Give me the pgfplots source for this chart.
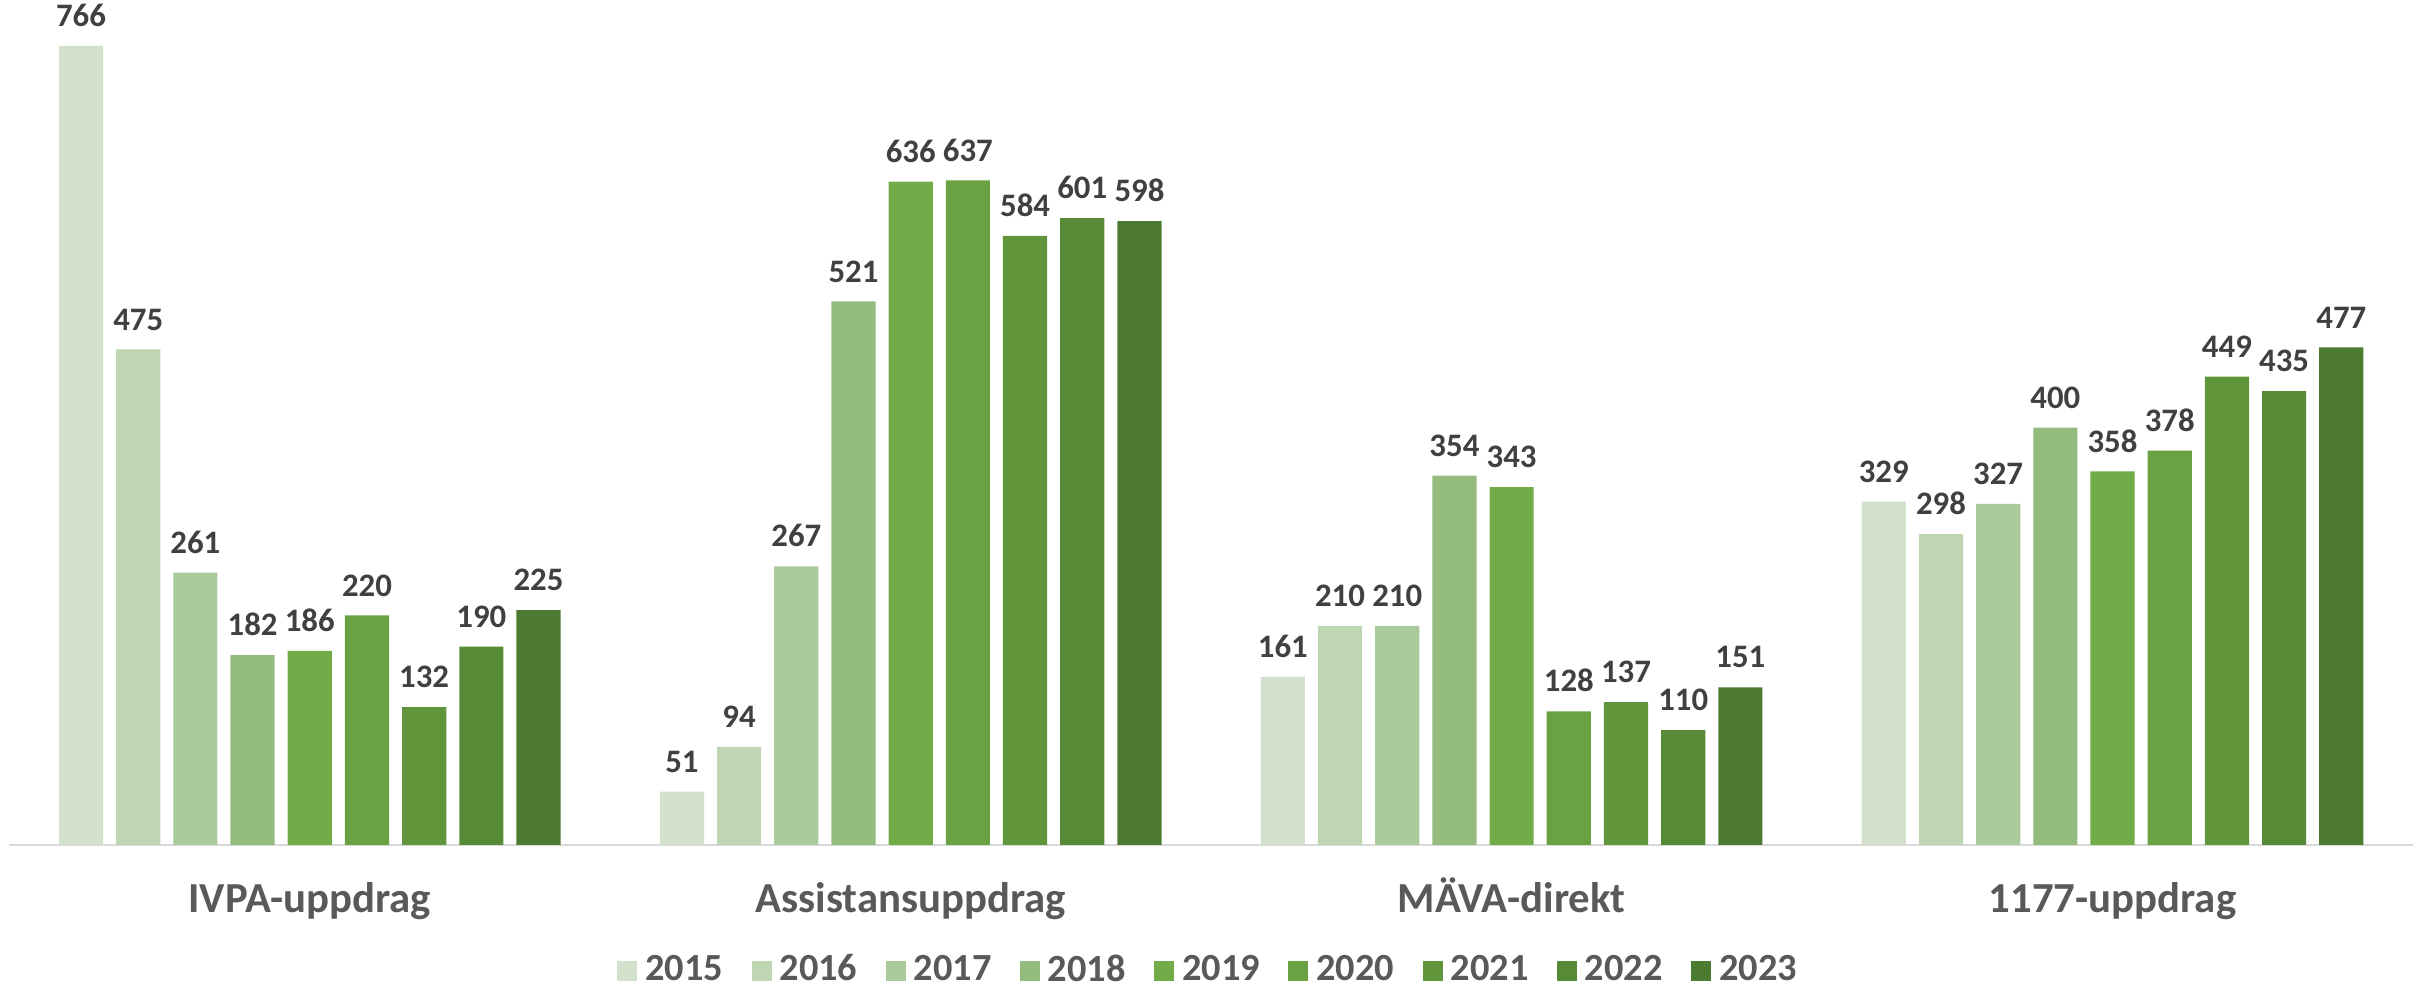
\documentclass[border=0pt]{standalone}
\usepackage{pgfplots}
\pgfplotsset{compat=1.18}
\usepackage{pgfplotstable}
\usepackage{fontspec}
\setmainfont{Carlito}

\definecolor{c15}{HTML}{D2E1CB}
\definecolor{c16}{HTML}{BFD6B3}
\definecolor{c17}{HTML}{AACA9B}
\definecolor{c18}{HTML}{94BC7E}
\definecolor{c19}{HTML}{71AC48}
\definecolor{c20}{HTML}{6AA143}
\definecolor{c21}{HTML}{61953C}
\definecolor{c22}{HTML}{578A37}
\definecolor{c23}{HTML}{4C7A30}
\definecolor{lbl}{HTML}{404040}
\definecolor{txt}{HTML}{595959}
\definecolor{axl}{HTML}{D9D9D9}

% rows: IVPA-uppdrag, Assistansuppdrag, MÄVA-direkt, 1177-uppdrag
\pgfplotstableread{
x  y2015 y2016 y2017 y2018 y2019 y2020 y2021 y2022 y2023
0  766   475   261   182   186   220   132   190   225
1  51    94    267   521   636   637   584   601   598
2  161   210   210   354   343   128   137   110   151
3  329   298   327   400   358   378   449   435   477
}\data

\begin{document}
\begin{tikzpicture}
\useasboundingbox (-2.33pt,-35.5pt) rectangle (605.75pt,211.25pt);
\begin{axis}[
    scale only axis,
    width=601pt, height=211.25pt,
    ybar=3.25pt, bar width=11.05pt,
    xmin=-0.5, xmax=3.5, ymin=0, ymax=810,
    axis x line*=bottom, axis y line=none,
    x axis line style={-, draw=axl, line width=0.6pt},
    xtick={0,1,2,3},
    xticklabels={IVPA-uppdrag, Assistansuppdrag, MÄVA-direkt, 1177-uppdrag},
    major tick length=0pt,
    xticklabel style={font=\bfseries\fontsize{10.7}{12.8}\selectfont, text=txt, anchor=base, yshift=-17pt},
    /pgf/number format/assume math mode=true,
    nodes near coords,
    every node near coord/.append style={font=\bfseries\fontsize{8.2}{9.8}\selectfont, text=lbl, inner sep=0pt, yshift=4.6pt},
    clip=false,
    legend columns=-1,
    legend style={draw=none, at={(0.5,-0.149)}, anchor=center,
        font=\bfseries\fontsize{9.6}{11.5}\selectfont, text=txt,
        nodes={inner ysep=0.3pt},
        /tikz/every even column/.append style={column sep=5.1pt}},
    legend image code/.code={\fill[#1] (0pt,-2.5pt) rectangle (5pt,2.5pt);},
]
\addplot[fill=c15, draw=none] table[x=x, y=y2015] {\data};
\addplot[fill=c16, draw=none] table[x=x, y=y2016] {\data};
\addplot[fill=c17, draw=none] table[x=x, y=y2017] {\data};
\addplot[fill=c18, draw=none] table[x=x, y=y2018] {\data};
\addplot[fill=c19, draw=none] table[x=x, y=y2019] {\data};
\addplot[fill=c20, draw=none] table[x=x, y=y2020] {\data};
\addplot[fill=c21, draw=none] table[x=x, y=y2021] {\data};
\addplot[fill=c22, draw=none] table[x=x, y=y2022] {\data};
\addplot[fill=c23, draw=none] table[x=x, y=y2023] {\data};
\legend{2015, 2016, 2017, 2018, 2019, 2020, 2021, 2022, 2023}
\end{axis}
\end{tikzpicture}
\end{document}
